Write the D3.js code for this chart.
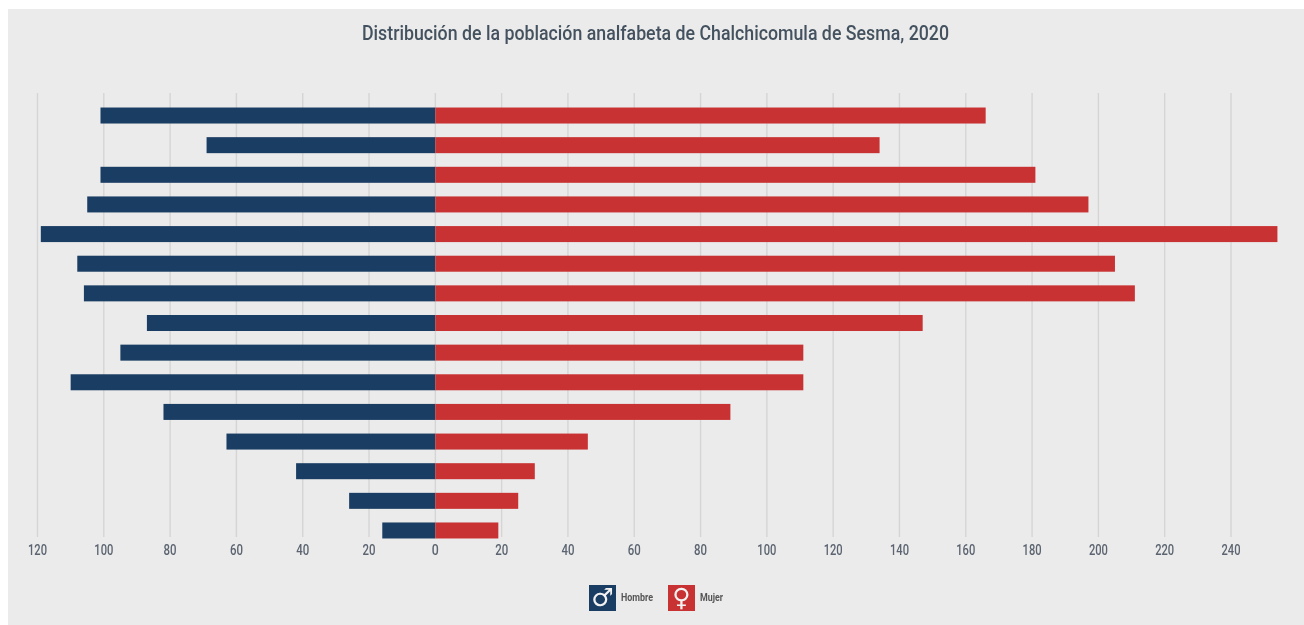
<!DOCTYPE html>
<html>
<head>
<meta charset="utf-8">
<title>Distribución de la población analfabeta</title>
<script src="https://cdnjs.cloudflare.com/ajax/libs/d3/7.8.5/d3.min.js"></script>
<style>
  html, body { margin: 0; padding: 0; background: #fff; overflow: hidden; }
  svg { display: block; filter: blur(0.45px); }
  text { font-family: Roboto, sans-serif; }
</style>
</head>
<body>
<div id="chart"></div>
<script>
// ordered top to bottom, as drawn (the picture has no labels on this axis)
var filas = [15, 14, 13, 12, 11, 10, 9, 8, 7, 6, 5, 4, 3, 2, 1];
var hombre = [101, 69, 101, 105, 119, 108, 106, 87, 95, 110, 82, 63, 42, 26, 16];
var mujer = [166, 134, 181, 197, 254, 205, 211, 147, 111, 111, 89, 46, 30, 25, 19];
var ticks = [-120, -100, -80, -60, -40, -20, 0, 20, 40, 60, 80, 100, 120, 140, 160, 180, 200, 220, 240];
var titulo = "Distribución de la población analfabeta de Chalchicomula de Sesma, 2020";

var width = 1304, height = 625;
var azul = "#1a3d63", rojo = "#c93232";

var svg = d3.select("#chart").append("svg")
    .attr("width", width)
    .attr("height", height);

svg.append("rect")
    .attr("x", 8).attr("y", 9)
    .attr("width", width - 8).attr("height", height - 9)
    .attr("fill", "#ebebeb");

svg.append("text")
    .attr("x", 655.5).attr("y", 40)
    .attr("text-anchor", "middle")
    .attr("textLength", 587)
    .attr("lengthAdjust", "spacingAndGlyphs")
    .style("font-size", "20.5px")
    .style("font-weight", "500")
    .style("fill", "#44525f")
    .text(titulo);

var x = d3.scaleLinear().domain([-120, 240]).range([37.5, 1231]);
var y = d3.scaleBand().domain(filas).range([100.7, 545.3]).paddingInner(0.46).paddingOuter(0.23);

// grid + labels
var axis = svg.append("g")
    .attr("transform", "translate(0,537)")
    .call(d3.axisBottom(x)
        .tickValues(ticks)
        .offset(0)
        .tickSize(-444)
        .tickPadding(7)
        .tickFormat(function(d) { return Math.abs(d); }));
axis.select(".domain").remove();
axis.selectAll("line").attr("stroke", "#d5d5d5").attr("stroke-width", 1.4);
axis.selectAll("text")
    .attr("textLength", function(d) { return Math.abs(d) >= 100 ? 19 : Math.abs(d) >= 10 ? 13 : 7; })
    .attr("lengthAdjust", "spacingAndGlyphs")
    .style("font-size", "15.5px")
    .style("font-weight", "500")
    .style("font-family", "Roboto, sans-serif")
    .style("fill", "#5b6470");

svg.selectAll(".hombre")
    .data(hombre)
    .enter().append("rect")
    .attr("class", "hombre")
    .attr("x", function(d) { return x(-d); })
    .attr("y", function(d, i) { return y(filas[i]); })
    .attr("width", function(d) { return x(0) - x(-d); })
    .attr("height", y.bandwidth())
    .attr("fill", azul);

svg.selectAll(".mujer")
    .data(mujer)
    .enter().append("rect")
    .attr("class", "mujer")
    .attr("x", x(0))
    .attr("y", function(d, i) { return y(filas[i]); })
    .attr("width", function(d) { return x(d) - x(0); })
    .attr("height", y.bandwidth())
    .attr("fill", rojo);

// legend
var items = [
  {nombre: "Hombre", color: azul, simbolo: "\u2642", px: 589, largo: 32},
  {nombre: "Mujer", color: rojo, simbolo: "\u2640", px: 668, largo: 23}
];
var leyenda = svg.selectAll(".leyenda")
    .data(items)
    .enter().append("g")
    .attr("class", "leyenda")
    .attr("transform", function(d) { return "translate(" + d.px + ",585)"; });
leyenda.append("rect")
    .attr("width", 27).attr("height", 26)
    .attr("fill", function(d) { return d.color; });
leyenda.append("text")
    .attr("x", 13.5).attr("y", 21)
    .attr("text-anchor", "middle")
    .style("font-family", "'DejaVu Sans', sans-serif")
    .style("font-size", "25px")
    .style("font-weight", "bold")
    .style("fill", "#f2f2f2")
    .text(function(d) { return d.simbolo; });
leyenda.append("text")
    .attr("x", 32).attr("y", 16)
    .attr("textLength", function(d) { return d.largo; })
    .attr("lengthAdjust", "spacingAndGlyphs")
    .style("font-size", "11.5px")
    .style("font-weight", "700")
    .style("fill", "#555")
    .text(function(d) { return d.nombre; });
</script>
</body>
</html>
